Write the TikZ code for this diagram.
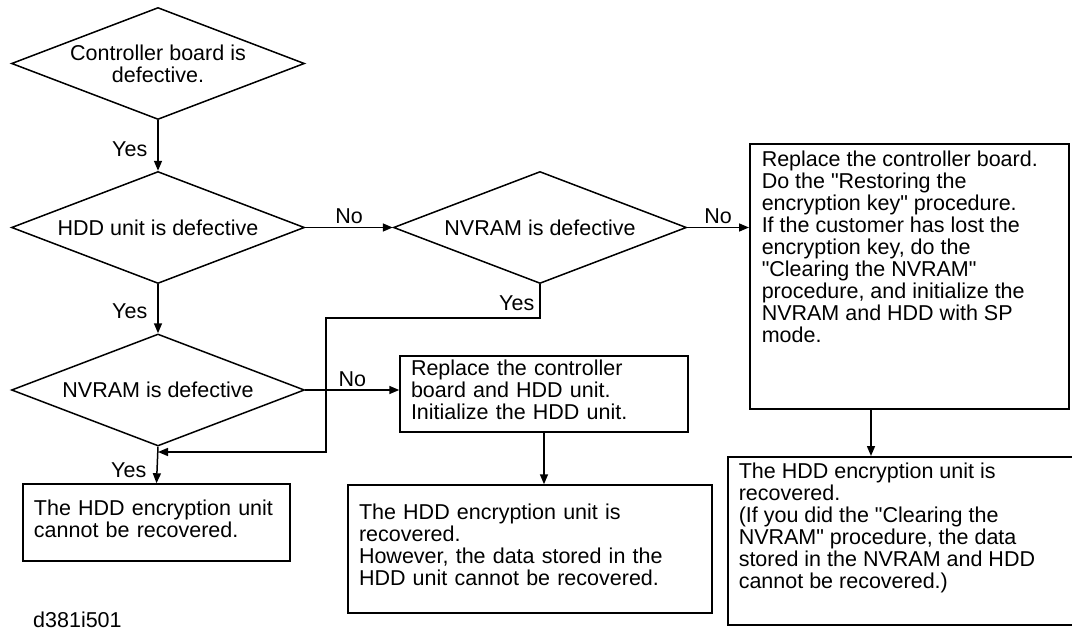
\documentclass[tikz,border=0pt]{standalone}
\usepackage{fontspec}
\setmainfont{Liberation Sans}
\usetikzlibrary{arrows.meta,positioning,shapes.geometric}
\newcommand{\chartfont}{\fontsize{21.5}{22}\selectfont}
\newcommand{\lift}{\rule[-8pt]{0pt}{0pt}}

\begin{document}
\begin{tikzpicture}[
  x=1pt, y=-1pt,
  dia/.style={diamond, draw, line width=1.5pt, aspect=2.6, inner sep=0pt, minimum width=293pt, minimum height=112pt, align=center, font=\chartfont},
  box/.style={draw, line width=1.5pt, align=left, inner xsep=11pt, inner ysep=0pt, font=\chartfont},
  arr/.style={-{Triangle[length=10pt,width=8pt]}, line width=1.5pt},
  lbl/.style={font=\chartfont, inner sep=3pt},
]
\useasboundingbox[fill=white] (0,0) rectangle (1072,634);

\node[dia] (ctrl) at (158,63.5) {Controller board is\\defective.};
\node[dia] (hdd) at (158,227.5) {HDD unit is defective};
\node[dia] (nvr) at (540,227.5) {NVRAM is defective};
\node[dia] (nvl) at (158,390) {NVRAM is defective};

\node[box, text width=266pt, minimum height=76pt] (repboth) at (544,394) {Replace the controller\\board and HDD unit.\\Initialize the HDD unit.\lift};
\node[box, text width=245pt, minimum height=77pt] (lost) at (156.5,522.5) {The HDD encryption unit\\cannot be recovered.\lift};
\node[box, text width=342pt, minimum height=128pt] (recov) at (530,549) {The HDD encryption unit is\\recovered.\\However, the data stored in the\\HDD unit cannot be recovered.\lift};
\node[box, anchor=north west, inner xsep=12pt, inner ysep=7pt] (repctrl) at (749,143) {\parbox[c][251pt][t]{295pt}{\raggedright Replace the controller board.\\Do the \textquotedbl Restoring the\\encryption key\textquotedbl{} procedure.\\If the customer has lost the\\encryption key, do the\\\textquotedbl Clearing the NVRAM\textquotedbl\\procedure, and initialize the\\NVRAM and HDD with SP\\mode.}};
\node[box, anchor=north west, inner ysep=6pt] (recovkey) at (727,456) {\parbox[c][156pt][t]{328pt}{\raggedright The HDD encryption unit is\\recovered.\\(If you did the \textquotedbl Clearing the\\NVRAM\textquotedbl{} procedure, the data\\stored in the NVRAM and HDD\\cannot be recovered.)}};

\coordinate (bend) at (326,318);
\coordinate (merge) at (158,452);
\coordinate (drop) at (871,0);

\draw[arr] (ctrl.south) -- node[lbl, left=7pt, pos=0.58] {Yes} (hdd.north);
\draw[arr] (hdd.east) -- node[lbl, above] {No} (nvr.west);
\draw[arr] (nvr.east) -- node[lbl, above] {No} (nvr.east -| repctrl.west);
\draw[arr] (hdd.south) -- node[lbl, left=7pt, pos=0.56] {Yes} (nvl.north);
\draw[arr] (nvl.east) -- node[lbl, above] {No} (nvl.east -| repboth.west);
\draw[arr] (nvr.south) |- node[lbl, left=2pt, pos=0.28] {Yes} (bend) |- (merge);
\draw[arr] (nvl.south) -- node[lbl, left=7pt, pos=0.64] {Yes} (lost.north);
\draw[arr] (repboth.south) -- (repboth.south |- recov.north);
\draw[arr] (drop |- repctrl.south) -- (drop |- recovkey.north);

\node[lbl, anchor=west] (tag) at (30,620) {d381i501};
\end{tikzpicture}
\end{document}
